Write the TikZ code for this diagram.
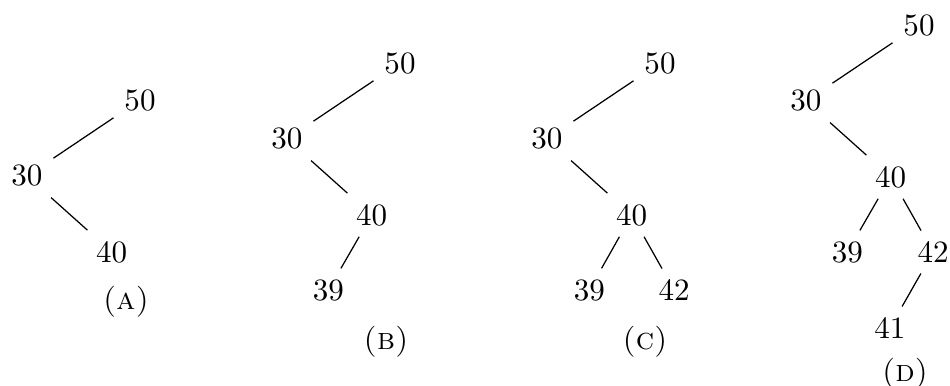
\documentclass[tikz,border=0pt]{standalone}
\usetikzlibrary{positioning}

\begin{document}
\begin{tikzpicture}[x=0.01132cm, y=-0.01132cm, on grid]
    \useasboundingbox (0,0) rectangle (950,385);

    % Tree (a)
    \node (a50) at (140,100) {50};
    \node (a30) [below left=0.86cm and 1.28cm of a50] {30};
    \node (a40) [below right=0.86cm and 0.96cm of a30] {40};
    \node (acap) at (126,302) {\textsc{(a)}};

    \path (a50) edge (a30)
          (a30) edge (a40);

    % Tree (b)
    \node (b50) at (400,63) {50};
    \node (b30) [below left=0.86cm and 1.28cm of b50] {30};
    \node (b40) [below right=0.86cm and 0.96cm of b30] {40};
    \node (b39) [below left=0.85cm and 0.49cm of b40] {39};
    \node (bcap) at (386,342) {\textsc{(b)}};

    \path (b50) edge (b30)
          (b30) edge (b40)
          (b40) edge (b39);

    % Tree (c)
    \node (c50) at (660,63) {50};
    \node (c30) [below left=0.86cm and 1.28cm of c50] {30};
    \node (c40) [below right=0.86cm and 0.96cm of c30] {40};
    \node (c39) [below left=0.85cm and 0.48cm of c40] {39};
    \node (c42) [below right=0.85cm and 0.48cm of c40] {42};
    \node (ccap) at (645,342) {\textsc{(c)}};

    \path (c50) edge (c30)
          (c30) edge (c40)
          (c40) edge (c39)
                edge (c42);

    % Tree (d)
    \node (d50) at (919,25) {50};
    \node (d30) [below left=0.86cm and 1.28cm of d50] {30};
    \node (d40) [below right=0.86cm and 0.96cm of d30] {40};
    \node (d39) [below left=0.85cm and 0.49cm of d40] {39};
    \node (d42) [below right=0.85cm and 0.48cm of d40] {42};
    \node (d41) [below left=0.86cm and 0.49cm of d42] {41};
    \node (dcap) at (905,374) {\textsc{(d)}};

    \path (d50) edge (d30)
          (d30) edge (d40)
          (d40) edge (d39)
                edge (d42)
          (d42) edge (d41);
\end{tikzpicture}
\end{document}
